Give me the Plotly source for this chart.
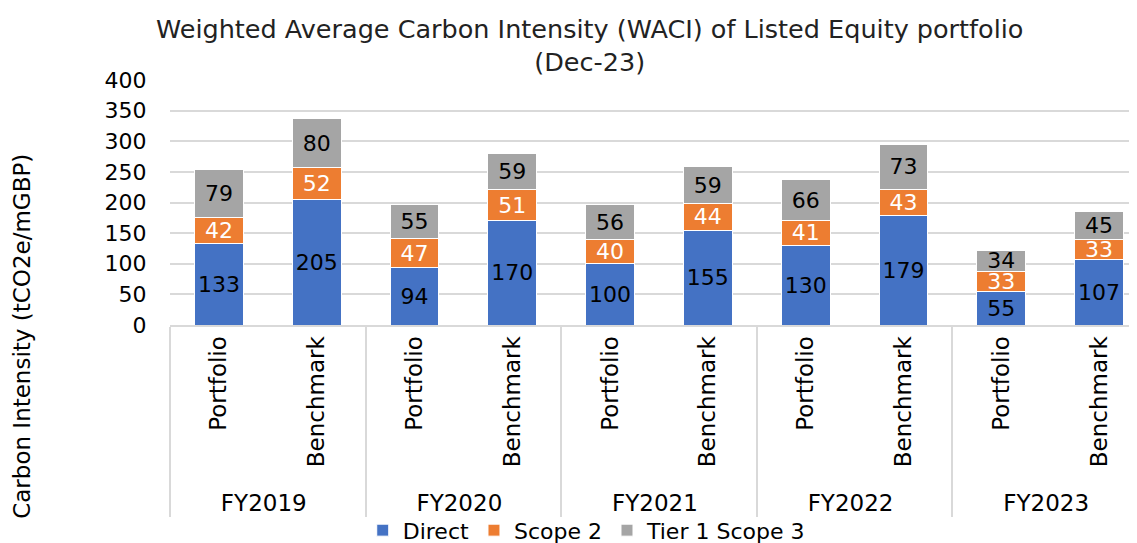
import plotly.graph_objects as go

years = ["FY2019", "FY2019", "FY2020", "FY2020", "FY2021", "FY2021",
         "FY2022", "FY2022", "FY2023", "FY2023"]
kinds = ["Portfolio", "Benchmark"] * 5

direct = [133, 205, 94, 170, 100, 155, 130, 179, 55, 107]
scope2 = [42, 52, 47, 51, 40, 44, 41, 43, 33, 33]
scope3 = [79, 80, 55, 59, 56, 59, 66, 73, 34, 45]

font = "DejaVu Sans"

series = [
    ("Direct", direct, "#4472C4", "black"),
    ("Scope 2", scope2, "#ED7D31", "white"),
    ("Tier 1 Scope 3", scope3, "#A5A5A5", "black"),
]

fig = go.Figure()
for name, vals, col, tcol in series:
    fig.add_trace(go.Bar(
        x=[years, kinds], y=vals, name=name,
        marker=dict(color=col, line=dict(color="white", width=1)),
        text=vals, textposition="inside", insidetextanchor="middle",
        textangle=0, constraintext="none",
        textfont=dict(family=font, size=22, color=tcol),
    ))

# the page body adds an 8px offset, so margins are trimmed by 8
fig.update_layout(
    barmode="stack", bargap=0.5,
    width=1137, height=543,
    paper_bgcolor="white", plot_bgcolor="white",
    margin=dict(l=162, r=0, t=72, b=226, autoexpand=False),
    font=dict(family=font, size=22, color="black"),
    legend=dict(orientation="h", x=0.509, xref="container", xanchor="center",
                y=0.038, yref="container", yanchor="middle",
                bgcolor="rgba(0,0,0,0)",
                font=dict(size=22), traceorder="normal", itemwidth=30),
    showlegend=True,
)
fig.update_xaxes(
    range=[-0.5, 9.47], tickangle=-90, automargin=False,
    showline=True, linecolor="#D9D9D9", linewidth=2,
    showdividers=True, dividercolor="#D9D9D9", dividerwidth=2,
    tickfont=dict(size=23),
)
fig.update_yaxes(
    range=[0, 400], dtick=50, showgrid=True, gridcolor="#D9D9D9", gridwidth=2,
    zeroline=False, ticks="outside", ticklen=18, tickcolor="rgba(0,0,0,0)",
    tickfont=dict(size=22), automargin=False,
)
fig.add_annotation(
    text="Weighted Average Carbon Intensity (WACI) of Listed Equity portfolio<br>(Dec-23)",
    xref="paper", yref="paper", x=0.43, y=1.14, xanchor="center", yanchor="middle",
    showarrow=False, font=dict(size=25.5, color="#222"),
)
fig.add_annotation(
    text="Carbon Intensity (tCO2e/mGBP)", textangle=-90,
    xref="paper", yref="paper", x=-0.152, y=-0.045, xanchor="center", yanchor="middle",
    showarrow=False, font=dict(size=23),
)

fig.write_html("out.html")
